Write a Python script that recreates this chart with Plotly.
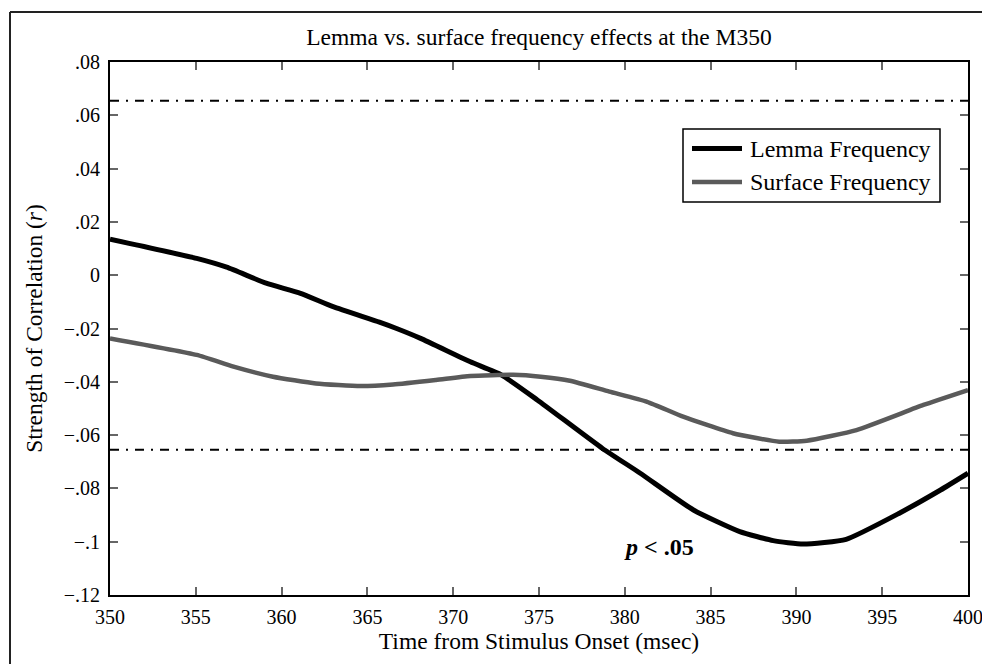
import plotly.graph_objects as go

# ---- data ----
lemma_t = [350, 355.05, 356.8, 359.1, 361.1, 363.0, 365.7, 366.7, 368.1, 371.0, 372.8,
           374.9, 378.7, 380.9, 384.0, 386.7, 388.65, 390.4, 392.9, 396.0, 398.4, 400]
lemma_r = [0.0135, 0.0063, 0.0030, -0.0030, -0.0068, -0.0118, -0.0176, -0.0200, -0.0237,
           -0.0325, -0.0374, -0.0468, -0.0650, -0.0743, -0.0881, -0.0962, -0.0996, -0.1009,
           -0.0991, -0.0893, -0.0806, -0.0743]

surface_t = [350, 355.05, 357.2, 359.5, 362.0, 364.6, 366.5, 369.0, 371.0, 373.5, 375.1,
             376.8, 379.1, 381.3, 383.4, 386.3, 389.0, 390.6, 393.5, 397.4, 400]
surface_r = [-0.0237, -0.0299, -0.0343, -0.0381, -0.0406, -0.0416, -0.0410, -0.0393, -0.0378,
             -0.0374, -0.0381, -0.0396, -0.0437, -0.0475, -0.0531, -0.0593, -0.0625, -0.0621,
             -0.0581, -0.0487, -0.0431]

series_names = ["Lemma Frequency", "Surface Frequency"]
series_colors = ["black", "#5a5a5a"]
series_widths = [5, 4.5]

threshold = 0.0655
x_range = [350, 400]
x_ticks = [350, 355, 360, 365, 370, 375, 380, 385, 390, 395, 400]
y_ticks = [0.08, 0.06, 0.04, 0.02, 0, -0.02, -0.04, -0.06, -0.08, -0.1, -0.12]
y_ticktext = [".08", ".06", ".04", ".02", "0", "\u2212.02", "\u2212.04", "\u2212.06",
              "\u2212.08", "\u2212.1", "\u2212.12"]

FONT = "Liberation Serif, Times New Roman, serif"

fig = go.Figure()

for s in (threshold, -threshold):
    fig.add_trace(go.Scatter(x=x_range, y=[s, s], mode="lines", showlegend=False,
                             hoverinfo="skip",
                             line=dict(color="black", width=2, dash="9px,7px,2px,7px")))

for t, r, name, c, w in zip([lemma_t, surface_t], [lemma_r, surface_r], series_names,
                            series_colors, series_widths):
    fig.add_trace(go.Scatter(x=t, y=r, mode="lines", name=name, showlegend=False,
                             line=dict(color=c, width=w, shape="spline", smoothing=0.5)))

fig.add_annotation(x=382.0, y=-0.102, text="<b><i>p</i> &lt; .05</b>", showarrow=False,
                   font=dict(family=FONT, size=24, color="black"))

# page body has an 8px offset; work in screen pixels and convert
OFF = 8
W, H = 990, 664
L, R, B, T = 110 - OFF, 968 - OFF, 595 - OFF, 62 - OFF
def px(x): return (x - OFF - L) / (R - L)
def py(y): return (B - (y - OFF)) / (B - T)

# outer frame (left and top edges visible in the reference)
fig.add_shape(type="line", xref="paper", yref="paper", x0=px(10), x1=px(10),
              y0=py(700), y1=py(12), line=dict(color="#222", width=2))
fig.add_shape(type="line", xref="paper", yref="paper", x0=px(10), x1=px(1000),
              y0=py(12), y1=py(12), line=dict(color="#222", width=2))

# legend box (drawn by hand, MATLAB style)
fig.add_shape(type="rect", xref="paper", yref="paper", x0=px(683), x1=px(940),
              y0=py(202), y1=py(129), fillcolor="white", line=dict(color="black", width=1.5))
for i, (name, c, w) in enumerate(zip(series_names, series_colors, series_widths)):
    yy = [148.5, 182][i]
    fig.add_shape(type="line", xref="paper", yref="paper", x0=px(692), x1=px(742),
                  y0=py(yy), y1=py(yy), line=dict(color=c, width=w))
    fig.add_annotation(xref="paper", yref="paper", x=px(748), y=py(yy), text=name,
                       xanchor="left", yanchor="middle", showarrow=False,
                       font=dict(family=FONT, size=24, color="black"))

axis_common = dict(showline=True, linecolor="black", linewidth=2, mirror="ticks",
                   ticks="inside", ticklen=8, tickwidth=1.5, tickcolor="#666",
                   showgrid=False, zeroline=False,
                   tickfont=dict(family=FONT, size=20, color="black"))

fig.update_xaxes(range=x_range, tickvals=x_ticks, ticklabelstandoff=3, **axis_common,
                 title=dict(text="Time from Stimulus Onset (msec)",
                            font=dict(family=FONT, size=23.5, color="black"), standoff=2))
fig.update_yaxes(range=[-0.12, 0.08], tickvals=y_ticks, ticktext=y_ticktext, **axis_common,
                 ticklabelstandoff=4,
                 title=dict(text="Strength of Correlation (<i>r</i>)",
                            font=dict(family=FONT, size=23.5, color="black"), standoff=14))

fig.update_layout(
    width=W, height=H,
    margin=dict(l=L, r=W - R, t=T, b=H - B, autoexpand=False),
    paper_bgcolor="white", plot_bgcolor="white",
    title=dict(text="Lemma vs. surface frequency effects at the M350",
               x=0.5, xref="paper", y=1 - (37 - OFF) / H, yref="container", yanchor="middle",
               font=dict(family=FONT, size=23.5, color="black")),
    showlegend=False,
)

fig.write_html("out.html")
